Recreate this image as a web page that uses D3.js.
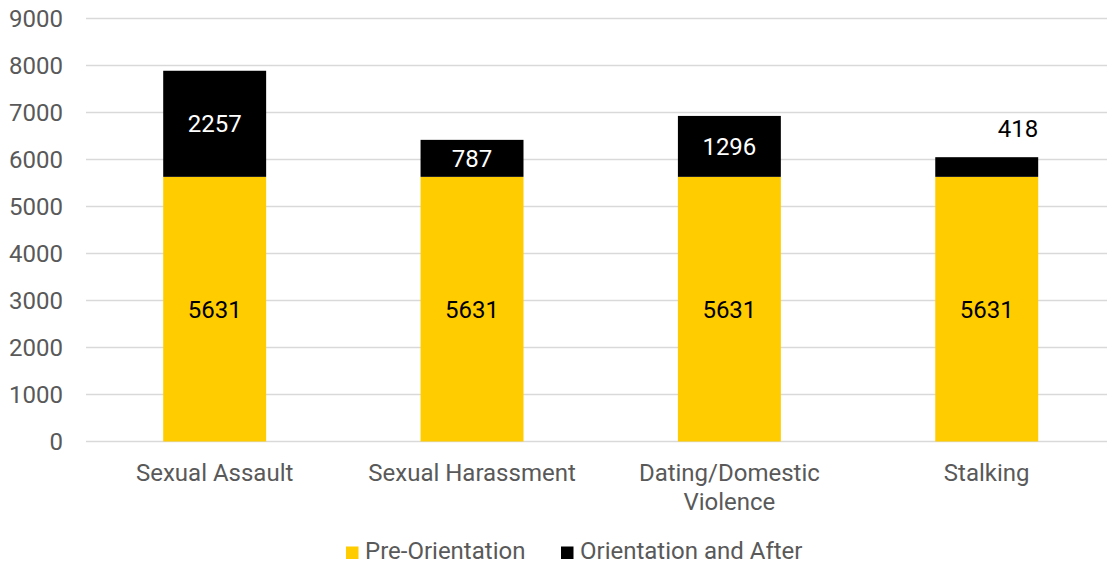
<!DOCTYPE html>
<html>
<head>
<meta charset="utf-8">
<script src="https://cdn.jsdelivr.net/npm/d3@7"></script>
<style>
  html, body { margin: 0; padding: 0; background: #fff; }
  svg { display: block; font-family: Roboto, "Noto Sans", sans-serif; }
</style>
</head>
<body>
<svg id="chart" width="1107" height="564"></svg>
<script>
// Categories (x labels may wrap onto two lines)
const categories = ["Sexual Assault", "Sexual Harassment", "Dating/Domestic Violence", "Stalking"];
const categoryLines = [["Sexual Assault"], ["Sexual Harassment"], ["Dating/Domestic", "Violence"], ["Stalking"]];

// Series values
const preOrientation = [5631, 5631, 5631, 5631];
const orientationAndAfter = [2257, 787, 1296, 418];

const seriesNames = ["Pre-Orientation", "Orientation and After"];
const seriesColors = ["#FFCC00", "#000000"];
const labelColors = ["#000000", "#ffffff"];

// Y axis ticks
const yTicks = [0, 1000, 2000, 3000, 4000, 5000, 6000, 7000, 8000, 9000];

const svg = d3.select("#chart");
const textColor = "#595959";

const x = d3.scaleBand()
  .domain(categories)
  .range([86, 1115.4])
  .paddingInner(0.6)
  .paddingOuter(0.3);

const y = d3.scaleLinear().domain([0, 9000]).range([441.5, 18.5]);

// Gridlines
svg.append("g")
  .selectAll("line")
  .data(yTicks)
  .join("line")
  .attr("x1", 86)
  .attr("x2", 1115.4)
  .attr("y1", d => y(d))
  .attr("y2", d => y(d))
  .attr("stroke", "#d9d9d9")
  .attr("stroke-width", 1.3);

// Y tick labels
svg.append("g")
  .selectAll("text")
  .data(yTicks)
  .join("text")
  .attr("x", 63)
  .attr("y", d => y(d))
  .attr("dy", "0.355em")
  .attr("text-anchor", "end")
  .attr("font-size", 24)
  .attr("fill", textColor)
  .text(d => d);

// Stack the two series
const rows = categories.map((c, i) => ({ cat: c, pre: preOrientation[i], post: orientationAndAfter[i] }));
const stack = d3.stack().keys(["pre", "post"])(rows);

const barG = svg.append("g");
stack.forEach((layer, si) => {
  barG.append("g")
    .selectAll("rect")
    .data(layer)
    .join("rect")
    .attr("x", d => x(d.data.cat))
    .attr("width", x.bandwidth())
    .attr("y", d => y(d[1]))
    .attr("height", d => y(d[0]) - y(d[1]))
    .attr("fill", seriesColors[si]);
});

// Data labels
stack.forEach((layer, si) => {
  svg.append("g")
    .selectAll("text")
    .data(layer)
    .join("text")
    .each(function(d) {
      const val = d[1] - d[0];
      const segH = y(d[0]) - y(d[1]);
      const t = d3.select(this);
      t.attr("font-size", 24).attr("dy", "0.355em").text(val);
      if (segH < 28) {
        // Too thin to hold the label: place it above the bar, right aligned
        t.attr("x", x(d.data.cat) + x.bandwidth())
         .attr("y", y(d[1]) - 29)
         .attr("text-anchor", "end")
         .attr("fill", "#000");
      } else {
        t.attr("x", x(d.data.cat) + x.bandwidth() / 2)
         .attr("y", (y(d[0]) + y(d[1])) / 2)
         .attr("text-anchor", "middle")
         .attr("fill", labelColors[si]);
      }
    });
});

// X category labels
const xl = svg.append("g")
  .selectAll("text")
  .data(categories)
  .join("text")
  .attr("x", d => x(d) + x.bandwidth() / 2)
  .attr("y", 480.5)
  .attr("text-anchor", "middle")
  .attr("font-size", 24)
  .attr("fill", textColor);
xl.each(function(d, i) {
  const t = d3.select(this);
  categoryLines[i].forEach((line, li) => {
    t.append("tspan")
      .attr("x", x(d) + x.bandwidth() / 2)
      .attr("dy", li === 0 ? 0 : 29)
      .text(line);
  });
});

// Legend
const legendItems = [
  { name: seriesNames[0], color: seriesColors[0], sx: 346, tx: 365 },
  { name: seriesNames[1], color: seriesColors[1], sx: 561, tx: 580 }
];
const lg = svg.append("g");
lg.selectAll("rect")
  .data(legendItems)
  .join("rect")
  .attr("x", d => d.sx)
  .attr("y", 546.5)
  .attr("width", 12.5)
  .attr("height", 12.5)
  .attr("fill", d => d.color);
lg.selectAll("text")
  .data(legendItems)
  .join("text")
  .attr("x", d => d.tx)
  .attr("y", 558.5)
  .attr("font-size", 24)
  .attr("fill", textColor)
  .text(d => d.name);
</script>
</body>
</html>
